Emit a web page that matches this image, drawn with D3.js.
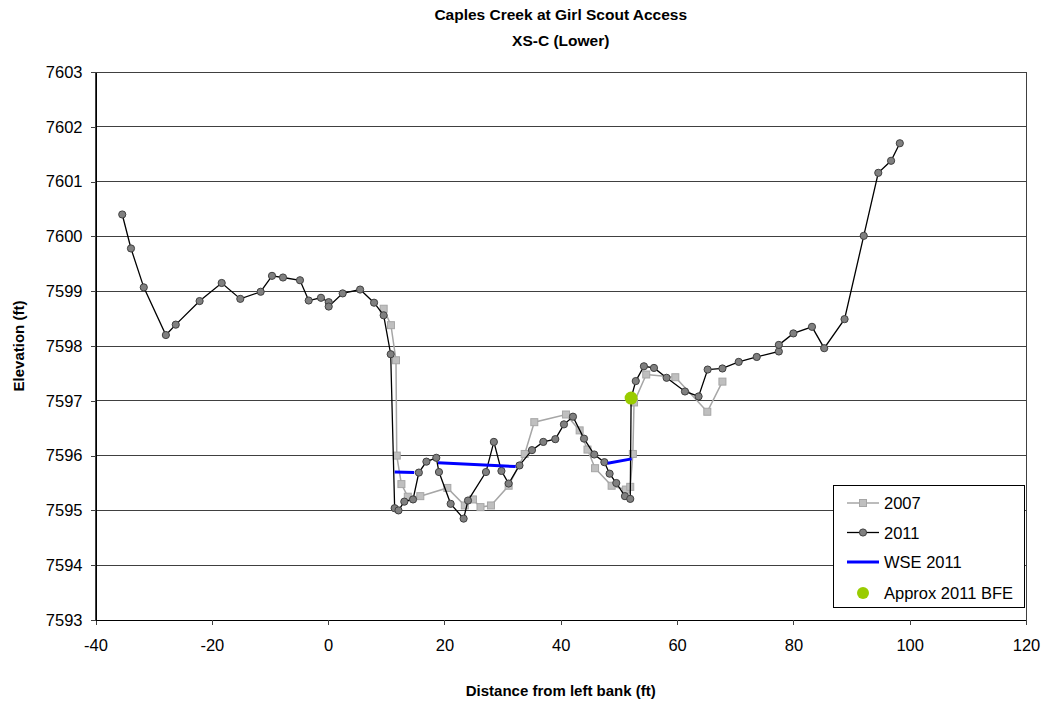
<!DOCTYPE html>
<html><head><meta charset="utf-8">
<script src="https://cdn.jsdelivr.net/npm/d3@7"></script>
<style>body{margin:0;background:#fff;} text{font-family:"Liberation Sans",Arial,sans-serif;}</style>
</head><body>
<svg id="chart" width="1049" height="702"></svg>
<script>
const titleLines = ["Caples Creek at Girl Scout Access", "XS-C (Lower)"];
const xTicks = [-40,-20,0,20,40,60,80,100,120];
const yTicks = [7593,7594,7595,7596,7597,7598,7599,7600,7601,7602,7603];

const dist2007 = [9.55,10.8,11.67,11.8,12.6,13.7,15.85,20.5,23.5,24.9,26.2,28.0,31.04,33.8,35.45,40.9,43.25,44.6,45.9,48.75,51.2,51.95,52.4,52.6,54.7,59.7,65.2,67.8];
const elev2007 = [7598.68,7598.38,7597.74,7596.00,7595.48,7595.25,7595.26,7595.41,7595.09,7595.20,7595.06,7595.09,7595.45,7596.03,7596.61,7596.75,7596.46,7596.11,7595.77,7595.45,7595.38,7595.43,7596.03,7596.97,7597.48,7597.43,7596.80,7597.35];

const dist2011 = [-35.4,-33.9,-31.7,-27.9,-26.2,-22.1,-18.3,-15.1,-11.6,-9.65,-7.76,-4.84,-3.34,-1.23,0.1,0.1,2.5,5.5,7.9,9.55,10.76,11.44,12.1,13.1,14.6,15.6,16.9,18.6,19.06,21.07,23.3,24.05,27.14,28.5,29.8,31.04,32.9,35.05,37.0,39.06,40.55,42.1,44.0,45.76,47.5,48.4,49.55,51.04,51.95,52.1,52.9,54.3,56.03,58.2,61.36,63.7,65.26,67.8,70.6,73.7,77.5,77.5,80.0,83.2,85.3,88.8,92.1,94.6,96.8,98.3];
const elev2011 = [7600.40,7599.78,7599.07,7598.20,7598.39,7598.82,7599.15,7598.86,7598.99,7599.28,7599.25,7599.20,7598.83,7598.88,7598.80,7598.72,7598.96,7599.03,7598.79,7598.56,7597.85,7595.04,7595.00,7595.16,7595.20,7595.69,7595.89,7595.96,7595.70,7595.12,7594.85,7595.18,7595.70,7596.25,7595.72,7595.49,7595.82,7596.10,7596.25,7596.30,7596.57,7596.71,7596.31,7596.02,7595.88,7595.67,7595.50,7595.26,7595.21,7597.05,7597.36,7597.63,7597.60,7597.42,7597.17,7597.08,7597.57,7597.59,7597.71,7597.80,7597.90,7598.02,7598.23,7598.35,7597.96,7598.49,7600.01,7601.16,7601.38,7601.70];

const wseDist = [11.44,14.8,null,18.9,32.25,null,48.07,52.2];
const wseElev = [7595.70,7595.69,null,7595.87,7595.80,null,7595.86,7595.94];

const bfeDist = [52.1];
const bfeElev = [7597.05];

const seriesNames = ["2007","2011","WSE 2011","Approx 2011 BFE"];

const svg = d3.select("#chart");
const L = 95.5, R = 1026, T = 72, B = 620;
const x = d3.scaleLinear().domain([-40,120]).range([L,R]);
const y = d3.scaleLinear().domain([7593,7603]).range([B,T]);

svg.append("g").selectAll("line").data(yTicks).join("line")
  .attr("x1",L).attr("x2",R).attr("y1",d=>y(d)).attr("y2",d=>y(d))
  .attr("stroke","#404040").attr("stroke-width",1).attr("shape-rendering","crispEdges");
svg.append("rect").attr("x",L).attr("y",T).attr("width",R-L).attr("height",B-T)
  .attr("fill","none").attr("stroke","#404040").attr("shape-rendering","crispEdges");

const xAxis = svg.append("g").attr("transform",`translate(0,${B})`)
  .call(d3.axisBottom(x).tickValues(xTicks).tickSize(5).tickSizeOuter(0).tickPadding(14)
    .tickFormat(d => String(d)));
const yAxis = svg.append("g").attr("transform",`translate(${L},0)`)
  .call(d3.axisLeft(y).tickValues(yTicks).tickSize(5).tickSizeOuter(0).tickFormat(d => String(d)).tickPadding(8));
[xAxis,yAxis].forEach(a=>{
  a.select(".domain").attr("stroke","#000").attr("shape-rendering","crispEdges");
  a.selectAll(".tick line").attr("stroke","#404040").attr("shape-rendering","crispEdges");
  a.selectAll(".tick text").attr("font-family","Liberation Sans, Arial, sans-serif").attr("font-size",16.5).attr("fill","#000");
});

const d07 = dist2007.map((d,i)=>[d,elev2007[i]]);
const d11 = dist2011.map((d,i)=>[d,elev2011[i]]);
const dw = wseDist.map((d,i)=>[d,wseElev[i]]);
const line = d3.line().defined(d=>d[0]!==null && d[1]!==null).x(d=>x(d[0])).y(d=>y(d[1]));

svg.append("path").attr("d",line(d07)).attr("fill","none").attr("stroke","#a6a6a6").attr("stroke-width",1.5);
svg.append("g").selectAll("rect").data(d07).join("rect")
  .attr("x",d=>x(d[0])-3.5).attr("y",d=>y(d[1])-3.5).attr("width",7).attr("height",7)
  .attr("fill","#bfbfbf").attr("stroke","#a6a6a6").attr("stroke-width",1);

svg.append("path").attr("d",line(d11)).attr("fill","none").attr("stroke","#000").attr("stroke-width",1.3);
svg.append("g").selectAll("circle").data(d11).join("circle")
  .attr("cx",d=>x(d[0])).attr("cy",d=>y(d[1])).attr("r",3.6)
  .attr("fill","#808080").attr("stroke","#404040").attr("stroke-width",1);

svg.append("path").attr("d",line(dw)).attr("fill","none").attr("stroke","#0000ff").attr("stroke-width",3);

svg.append("g").selectAll("circle").data(bfeDist.map((d,i)=>[d,bfeElev[i]])).join("circle")
  .attr("cx",d=>x(d[0])).attr("cy",d=>y(d[1])).attr("r",6.5).attr("fill","#99cc00");

svg.append("g").selectAll("text").data(titleLines).join("text")
  .attr("x",(L+R)/2).attr("y",(d,i)=>20+i*26).attr("text-anchor","middle")
  .attr("font-weight","bold").attr("font-size",15.5).text(d=>d);
svg.append("text").attr("x",(L+R)/2).attr("y",696).attr("text-anchor","middle")
  .attr("font-weight","bold").attr("font-size",15).text("Distance from left bank (ft)");
svg.append("text").attr("transform",`translate(24,${(T+B)/2}) rotate(-90)`).attr("text-anchor","middle")
  .attr("font-weight","bold").attr("font-size",15).text("Elevation (ft)");

const lg = svg.append("g");
lg.append("rect").attr("x",833).attr("y",485).attr("width",191).attr("height",122)
  .attr("fill","#fff").attr("stroke","#000").attr("shape-rendering","crispEdges");
const ly = [503,532.5,562,593];
const lx1 = 847, lx2 = 879, lxm = 863;
lg.append("line").attr("x1",lx1).attr("x2",lx2).attr("y1",ly[0]).attr("y2",ly[0]).attr("stroke","#a6a6a6").attr("stroke-width",1.5);
lg.append("rect").attr("x",lxm-3.5).attr("y",ly[0]-3.5).attr("width",7).attr("height",7).attr("fill","#bfbfbf").attr("stroke","#a6a6a6");
lg.append("line").attr("x1",lx1).attr("x2",lx2).attr("y1",ly[1]).attr("y2",ly[1]).attr("stroke","#000").attr("stroke-width",1.3);
lg.append("circle").attr("cx",lxm).attr("cy",ly[1]).attr("r",3.6).attr("fill","#808080").attr("stroke","#404040");
lg.append("line").attr("x1",lx1).attr("x2",lx2).attr("y1",ly[2]).attr("y2",ly[2]).attr("stroke","#0000ff").attr("stroke-width",3);
lg.append("circle").attr("cx",lxm).attr("cy",ly[3]).attr("r",6).attr("fill","#99cc00");
lg.selectAll("text").data(seriesNames).join("text")
  .attr("x",884).attr("y",(d,i)=>ly[i]+6).attr("font-size",16.5).text(d=>d);
</script>
</body></html>
